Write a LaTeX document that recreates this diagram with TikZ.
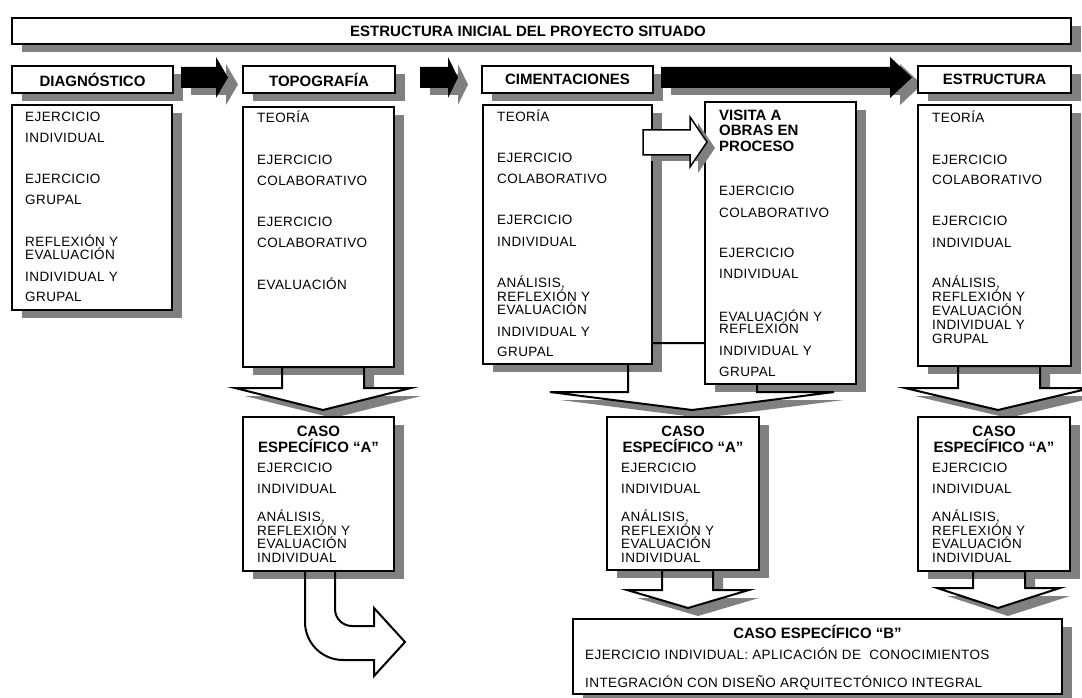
\documentclass[tikz,border=0pt]{standalone}
\usepackage{fontspec}
\setmainfont{Liberation Sans}
\newfontfamily\bodyfam[LetterSpace=3]{Liberation Sans}
\usetikzlibrary{calc}
\definecolor{shadowgray}{RGB}{128,128,128}
\pgfdeclarelayer{arrowshade}
\pgfdeclarelayer{arrowfill}
\pgfdeclarelayer{boxshade}
\pgfdeclarelayer{arrowline}
\pgfsetlayers{arrowshade,arrowfill,boxshade,arrowline,main}
% text sizes
\newcommand\txtsize{\bodyfam\fontsize{13.5}{13.5}\selectfont\lineskiplimit=-30pt\lineskip=0pt}
\newcommand\hdsize{\bfseries\fontsize{15}{16}\selectfont\lineskiplimit=-30pt\lineskip=0pt}
\newcommand\txtblock[2]{\parbox[t]{#1}{\raggedright\txtsize #2}}
\newcommand\hdblock[2]{\parbox[t]{#1}{\centering\hdsize #2}}
% gray drop shadow behind a box node
\newcommand\shadebox[1]{\begin{pgfonlayer}{boxshade}\fill[shadowgray] ($(#1.north west)+(10,8)$) rectangle ($(#1.south east)+(10,8)$);\end{pgfonlayer}}
% white outlined block arrow with shadow
\newcommand\blockarrow[1]{%
  \begin{pgfonlayer}{arrowshade}\fill[shadowgray,shift={(10,8)}] #1;\end{pgfonlayer}%
  \begin{pgfonlayer}{arrowfill}\fill[white] #1;\end{pgfonlayer}%
  \begin{pgfonlayer}{arrowline}\draw[line width=2pt] #1;\end{pgfonlayer}}
% solid black block arrow with shadow
\newcommand\solidarrow[1]{%
  \begin{pgfonlayer}{arrowshade}\fill[shadowgray,shift={(10,7)}] #1;\end{pgfonlayer}%
  \begin{pgfonlayer}{arrowline}\fill[black] #1;\end{pgfonlayer}}
\begin{document}
\begin{tikzpicture}[x=1pt,y=-1pt,line join=miter,
  box/.style={draw=black,line width=2pt,fill=white,inner sep=0pt,outer sep=0pt,anchor=north west},
  hd/.style={box,font=\hdsize},
  txt/.style={inner sep=0pt,anchor=base west},
  ctxt/.style={inner sep=0pt,anchor=base}]
\useasboundingbox (0,0) rectangle (1082,698);

% title bar
\node[box,minimum width=1059,minimum height=26] (title) at (12,18) {};
\shadebox{title}
\node[ctxt,font=\hdsize] (titletext) at (528,36.5) {ESTRUCTURA INICIAL DEL PROYECTO SITUADO};

% stage headers
\node[hd,minimum width=161,minimum height=27] (diag) at (12,66) {DIAGNÓSTICO};
\node[hd,minimum width=152,minimum height=27] (topo) at (243,66) {TOPOGRAFÍA};
\node[hd,minimum width=171,minimum height=27] (cim) at (482,66) {CIMENTACIONES};
\node[hd,minimum width=153,minimum height=27] (est) at (918,66) {ESTRUCTURA};
\foreach \n in {diag,topo,cim,est} {\shadebox{\n}}

% black arrows between the stages
\solidarrow{(181,67) -- (216,67) -- (216,57) -- (228,77.5) -- (216,98) -- (216,88) -- (181,88) -- cycle}
\solidarrow{(420,67) -- (448,67) -- (448,57) -- (458,77.5) -- (448,98) -- (448,88) -- (420,88) -- cycle}
\solidarrow{(661,67) -- (890,67) -- (890,57) -- (912,77.5) -- (890,98) -- (890,88) -- (661,88) -- cycle}

% content boxes
\node[box,minimum width=160,minimum height=205] (diagc) at (12,105) {};
\node[box,minimum width=151,minimum height=260] (topoc) at (243,107) {};
\node[box,minimum width=169,minimum height=259] (cimc) at (483,105) {};
\node[box,minimum width=151,minimum height=282] (visita) at (705,102) {};
\node[box,minimum width=153,minimum height=261] (estc) at (918,105) {};
\node[box,minimum width=151,minimum height=154] (topoa) at (243,417) {};
\node[box,minimum width=152,minimum height=153] (cima) at (607,417) {};
\node[box,minimum width=152,minimum height=154] (esta) at (918,417) {};
\node[box,minimum width=489,minimum height=75] (casob) at (573,619) {};
\foreach \n in {diagc,topoc,cimc,visita,estc,topoa,cima,esta,casob} {\shadebox{\n}}

% texts of the content boxes
\node[txt] (diagtext) at (25,122) {\txtblock{145pt}{EJERCICIO\\[7.5pt]INDIVIDUAL\\[27.5pt]EJERCICIO\\[7.5pt]GRUPAL\\[28.5pt]REFLEXIÓN Y\\[-0.5pt]EVALUACIÓN\\[8.5pt]INDIVIDUAL Y\\[6.5pt]GRUPAL}};
\node[txt] (topotext) at (257,123) {\txtblock{135pt}{TEORÍA\\[28.5pt]EJERCICIO\\[7.5pt]COLABORATIVO\\[27.5pt]EJERCICIO\\[7.5pt]COLABORATIVO\\[28.5pt]EVALUACIÓN}};
\node[txt] (cimtext) at (497,122) {\txtblock{150pt}{TEORÍA\\[27.5pt]EJERCICIO\\[7.5pt]COLABORATIVO\\[27.5pt]EJERCICIO\\[8.5pt]INDIVIDUAL\\[27.5pt]ANÁLISIS,\\[0.5pt]REFLEXIÓN Y\\[-0.5pt]EVALUACIÓN\\[8.5pt]INDIVIDUAL Y\\[6.5pt]GRUPAL}};
\node[txt] (visitahd) at (719,120.5) {\parbox[t]{130pt}{\raggedright\hdsize VISITA A\\[-0.5pt]OBRAS EN\\[-0.5pt]PROCESO}};
\node[txt] (visitatext) at (719,196) {\txtblock{135pt}{EJERCICIO\\[7.5pt]COLABORATIVO\\[27.5pt]EJERCICIO\\[7.5pt]INDIVIDUAL\\[29.5pt]EVALUACIÓN Y\\[-1.5pt]REFLEXIÓN\\[8.5pt]INDIVIDUAL Y\\[7.5pt]GRUPAL}};
\node[txt] (esttext) at (932,123) {\txtblock{135pt}{TEORÍA\\[28.5pt]EJERCICIO\\[6.5pt]COLABORATIVO\\[27.5pt]EJERCICIO\\[8.5pt]INDIVIDUAL\\[26.5pt]ANÁLISIS,\\[0.5pt]REFLEXIÓN Y\\[0.5pt]EVALUACIÓN\\[0.5pt]INDIVIDUAL Y\\[0.5pt]GRUPAL}};

% specific case A boxes
\node[ctxt] (topoahd) at (318.5,436.5) {\hdblock{150pt}{CASO\\ESPECÍFICO “A”}};
\node[txt] (topoatext) at (257,472) {\txtblock{135pt}{EJERCICIO\\[7.5pt]INDIVIDUAL\\[14.5pt]ANÁLISIS,\\[0.5pt]REFLEXIÓN Y\\[-0.5pt]EVALUACIÓN\\[0.5pt]INDIVIDUAL}};
\node[ctxt] (cimahd) at (683,436.5) {\hdblock{150pt}{CASO\\ESPECÍFICO “A”}};
\node[txt] (cimatext) at (621,472) {\txtblock{135pt}{EJERCICIO\\[7.5pt]INDIVIDUAL\\[14.5pt]ANÁLISIS,\\[0.5pt]REFLEXIÓN Y\\[-0.5pt]EVALUACIÓN\\[0.5pt]INDIVIDUAL}};
\node[ctxt] (estahd) at (994,436.5) {\hdblock{150pt}{CASO\\ESPECÍFICO “A”}};
\node[txt] (estatext) at (932,472) {\txtblock{135pt}{EJERCICIO\\[7.5pt]INDIVIDUAL\\[14.5pt]ANÁLISIS,\\[0.5pt]REFLEXIÓN Y\\[-0.5pt]EVALUACIÓN\\[0.5pt]INDIVIDUAL}};

% specific case B box
\node[ctxt,font=\hdsize] (casobhd) at (817.5,638.5) {CASO ESPECÍFICO “B”};
\node[txt] (casobtext) at (585,659) {\txtblock{470pt}{EJERCICIO INDIVIDUAL: APLICACIÓN DE \ CONOCIMIENTOS\\[14.5pt]INTEGRACIÓN CON DISEÑO ARQUITECTÓNICO INTEGRAL}};

% downward block arrows
\blockarrow{(282,367) -- (282,388) -- (235,388) -- (323,410) -- (411,388) -- (364,388) -- (364,367) -- cycle}
\blockarrow{(628,343) -- (628,392) -- (550,392) -- (692,410) -- (834,392) -- (757,392) -- (757,343) -- cycle}
\blockarrow{(958,366) -- (958,388) -- (905,388) -- (998,410) -- (1091,388) -- (1040,388) -- (1040,366) -- cycle}
\blockarrow{(662,570) -- (662,590) -- (627,590) -- (688,608) -- (749,590) -- (713,590) -- (713,570) -- cycle}
\blockarrow{(973,571) -- (973,588) -- (937,588) -- (998,608) -- (1060,588) -- (1025,588) -- (1025,571) -- cycle}

% bent arrow leaving the topography case
\begin{pgfonlayer}{arrowfill}
\fill[white] (305,571) -- (305,622) .. controls (305,643) and (322,660) .. (343,660) -- (374,660) -- (374,676) -- (405,642) -- (374,608) -- (374,626) -- (352,626) .. controls (342.6,626) and (335,618.4) .. (335,609) -- (335,571) -- cycle;
\end{pgfonlayer}
\begin{pgfonlayer}{arrowline}
\draw[line width=2pt] (305,571) -- (305,622) .. controls (305,643) and (322,660) .. (343,660) -- (374,660) -- (374,676) -- (405,642) -- (374,608) -- (374,626) -- (352,626) .. controls (342.6,626) and (335,618.4) .. (335,609) -- (335,571);
\end{pgfonlayer}

% white arrow towards the site visit
\fill[shadowgray,shift={(8,6)}] (643,130) -- (690,130) -- (690,117) -- (707,142) -- (690,167) -- (690,155) -- (643,155) -- cycle;
\draw[line width=1.5pt,fill=white] (643,130) -- (690,130) -- (690,117) -- (707,142) -- (690,167) -- (690,155) -- (643,155) -- cycle;
\end{tikzpicture}
\end{document}
